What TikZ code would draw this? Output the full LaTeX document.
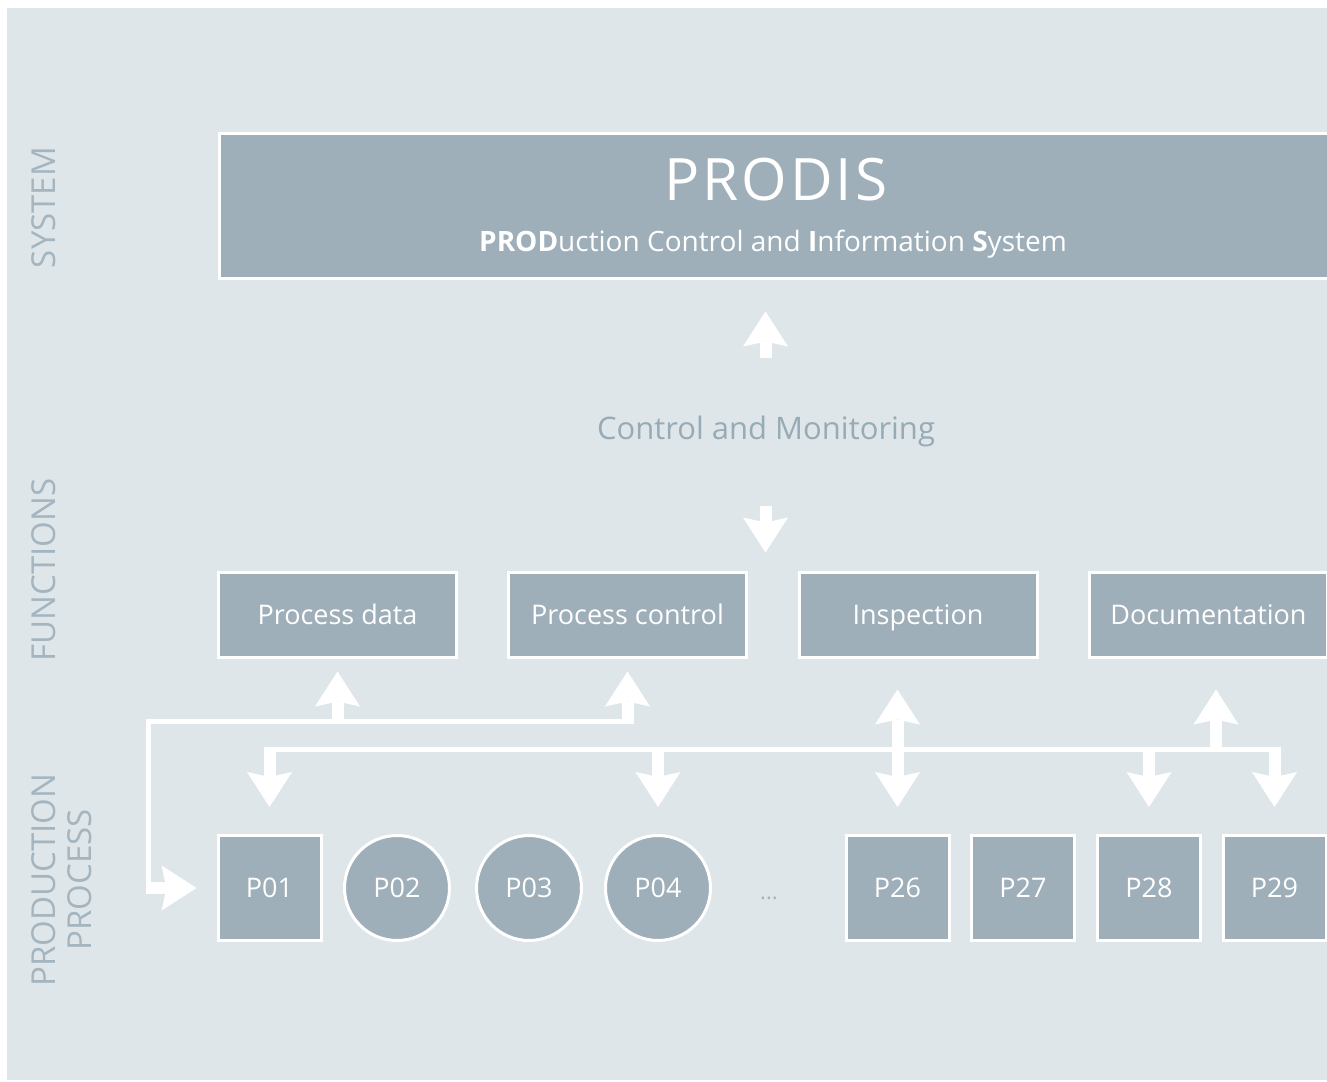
\documentclass[tikz,border=0pt]{standalone}
\usepackage{fontspec}
\setmainfont{Open Sans}
\newfontfamily\trackfont[LetterSpace=5]{Open Sans}
\usetikzlibrary{arrows.meta}
\definecolor{bg}{HTML}{DFE6EA}
\definecolor{boxc}{HTML}{9EAFB9}
\definecolor{lbl}{HTML}{A4B5BF}
\definecolor{ctl}{HTML}{97ABB6}
\begin{document}
\begin{tikzpicture}[x=1pt,y=-1pt,
  box/.style={draw=white, line width=3pt, fill=boxc, text=white, inner sep=0pt},
  fnbox/.style={box, rectangle, minimum width=238pt, minimum height=85pt,
    font=\fontsize{27}{32}\selectfont, text height=19pt, text depth=0pt},
  pbox/.style={box, rectangle, minimum width=103pt, minimum height=105pt,
    font=\fontsize{27}{32}\selectfont, text height=19pt, text depth=0pt},
  pcirc/.style={box, circle, minimum size=105pt,
    font=\fontsize{27}{32}\selectfont, text height=19pt, text depth=0pt},
  side/.style={rotate=90, text=lbl, font=\fontsize{33}{36}\selectfont, align=center, inner sep=0pt},
  busline/.style={draw=white, line width=5pt},
  bigtip/.tip={Stealth[length=35pt,width=45pt,inset=5pt,line width=0pt]},
  fat/.style={draw=white, line width=12pt, -bigtip},
  fatboth/.style={draw=white, line width=12pt, bigtip-bigtip},
]
\path[use as bounding box, clip] (0,0) rectangle (1327,1081);
\fill[white] (0,0) rectangle (1327,1081);
\fill[bg] (7,8) rectangle (1330,1080);

% side labels
\node[side] (lsys) at (44,207.5) {SYSTEM};
\node[side] (lfun) at (44,570) {FUNCTIONS};
\node[side] (lpro) at (62,880) {PRODUCTION\\PROCESS};

% system box
\node[box, rectangle, minimum width=1120pt, minimum height=145pt, anchor=north west] (prodis) at (218,131.5) {};
\node[anchor=base, text=white, inner sep=0pt, font=\trackfont\fontsize{58.5}{62}\selectfont] (title) at (776,200) {PRODIS};
\node[anchor=base, text=white, inner sep=0pt, font=\fontsize{28}{32}\selectfont] (subtitle) at (773,251)
  {\textbf{PROD}uction Control and \textbf{I}nformation \textbf{S}ystem};

% control and monitoring
\node[anchor=base, text=ctl, inner sep=0pt, font=\fontsize{31}{34}\selectfont] (ctrl) at (766,439) {Control and Monitoring};
\coordinate (upstart) at (765.5,358);
\coordinate (downstart) at (765.5,506);

% function boxes
\node[fnbox] (PD) at (337.5,614.5) {Process data};
\node[fnbox] (PC) at (627.5,614.5) {Process control};
\node[fnbox] (IN) at (918,614.5) {Inspection};
\node[fnbox] (DO) at (1208.5,614.5) {Documentation};

\draw[fat, shorten >=32pt] (upstart) -- (upstart |- prodis.south);
\draw[fat, shorten >=18pt] (downstart) -- (downstart |- PC.north);

% production process
\node[pbox] (P01) at (269.5,888) {P01};
\node[pcirc] (P02) at (397,888) {P02};
\node[pcirc] (P03) at (529,888) {P03};
\node[pcirc] (P04) at (658,888) {P04};
\node[anchor=base, text=lbl, inner sep=0pt, font=\fontsize{22}{24}\selectfont] (dots) at (769,899) {...};
\node[pbox] (P26) at (897.5,888) {P26};
\node[pbox] (P27) at (1023,888) {P27};
\node[pbox] (P28) at (1149,888) {P28};
\node[pbox] (P29) at (1274.5,888) {P29};

% feedback loop
\coordinate (fbTop) at (148.7,721.5);
\coordinate (fbBot) at (148.7,894);
\draw[busline] ([xshift=6pt]PC.south |- fbTop) -- (fbTop) -- (fbBot);
\draw[fat, shorten >=13pt] (PD.south |- fbTop) -- (PD.south);
\draw[fat, shorten >=13pt] (PC.south |- fbTop) -- (PC.south);
\draw[fat, shorten >=20pt] (146.2,888) -- (P01.west);

% distribution bus
\coordinate (bus) at (0,749.5);
\draw[busline] ([xshift=-6pt]P01.north |- bus) -- ([xshift=6pt]P29.north |- bus);
\draw[fat, shorten >=27pt] (P01.north |- bus) -- (P01.north);
\draw[fat, shorten >=27pt] (P04.north |- bus) -- (P04.north);
\draw[fat, shorten >=27pt] (P28.north |- bus) -- (P28.north);
\draw[fat, shorten >=27pt] (P29.north |- bus) -- (P29.north);
\draw[fatboth, shorten <=31pt, shorten >=27pt] (P26.north |- IN.south) -- (P26.north);
\draw[fat, shorten >=31pt] ([xshift=7.5pt]DO.south |- bus) -- ([xshift=7.5pt]DO.south);
\end{tikzpicture}
\end{document}
